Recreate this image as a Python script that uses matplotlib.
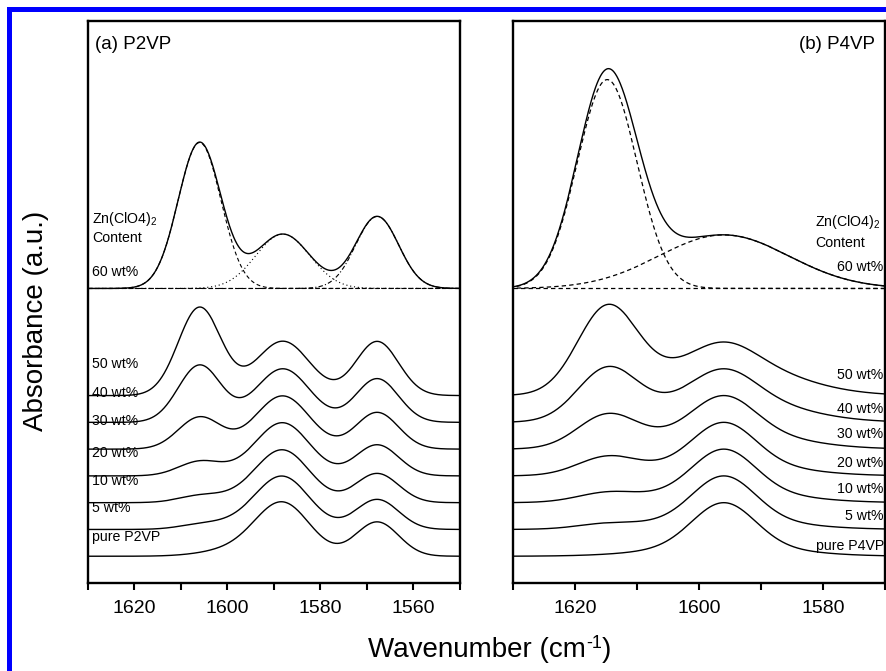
import numpy as np
import matplotlib
matplotlib.use("Agg")
import matplotlib.pyplot as plt
from matplotlib.ticker import MultipleLocator
from matplotlib.transforms import blended_transform_factory
from matplotlib.patches import Rectangle

plt.rcParams['font.family'] = ['Liberation Sans', 'DejaVu Sans']
plt.rcParams['mathtext.default'] = 'regular'

# ---------------- data ----------------
contents = ['pure', '5 wt%', '10 wt%', '20 wt%', '30 wt%', '40 wt%', '50 wt%', '60 wt%']
offsets = [1, 2, 3, 4, 5, 6, 7, 11]

# P2VP bands (cm-1): Zn-complexed ring, weak shoulder, free ring, 1568 band
p2vp_centers = [1606.0, 1598.0, 1588.1, 1567.8]
p2vp_sigmas = [4.6, 7.0, 5.8, 4.6]
p2vp_amp_complex = [0.0, 0.12, 0.21, 0.50, 1.17, 2.13, 3.29, 5.45]
p2vp_amp_shoulder = [0.25, 0.20, 0.15, 0.10, 0.05, 0.0, 0.0, 0.0]
p2vp_amp_free = [1.94, 1.92, 1.92, 1.95, 1.97, 2.00, 2.03, 2.03]
p2vp_amp_1568 = [1.28, 1.12, 1.09, 1.16, 1.37, 1.63, 2.02, 2.69]

# P4VP bands (cm-1): Zn-complexed ring, free ring (narrow + broad part)
p4vp_centers = [1614.8, 1596.0, 1596.0]
p4vp_sigmas = [4.8, 5.0, 10.5]
p4vp_amp_complex = [0.0, 0.17, 0.32, 0.65, 1.19, 1.88, 3.14, 7.8]
p4vp_amp_free_narrow = [1.6, 1.6, 1.55, 1.5, 1.3, 1.0, 0.7, 0.0]
p4vp_amp_free_broad = [0.4, 0.4, 0.45, 0.5, 0.7, 1.0, 1.3, 2.0]

p2vp_labels = ['pure P2VP', '5 wt%', '10 wt%', '20 wt%', '30 wt%', '40 wt%', '50 wt%']
p4vp_labels = ['pure P4VP', '5 wt%', '10 wt%', '20 wt%', '30 wt%', '40 wt%', '50 wt%']

xlim_a = (1630, 1550)
xlim_b = (1630, 1570)


def band(x, c, s, a):
    return a * np.exp(-0.5 * ((x - c) / s) ** 2)


# ---------------- figure ----------------
W, H = 886, 671
fig = plt.figure(figsize=(W / 100, H / 100), dpi=100)

def frac_axes(x0, y0, x1, y1):
    return fig.add_axes([x0 / W, 1 - y1 / H, (x1 - x0) / W, (y1 - y0) / H])

axa = frac_axes(88, 20.7, 460, 583)
axb = frac_axes(513, 20.7, 885, 583)

lw_main = 1.0
dash = (0, (3.5, 2.5))

# ---- panel (a) P2VP ----
xa = np.linspace(1550, 1630, 900)
amps_a = [p2vp_amp_complex, p2vp_amp_shoulder, p2vp_amp_free, p2vp_amp_1568]
for i, off in enumerate(offsets):
    comps = [band(xa, c, s, amp[i]) for c, s, amp in zip(p2vp_centers, p2vp_sigmas, amps_a)]
    axa.plot(xa, off + sum(comps), color='black', lw=lw_main)
    if i == len(offsets) - 1:
        styles = [dash, None, (0, (1, 2.5)), (0, (4, 2, 1, 2))]
        for comp, st in zip(comps, styles):
            if st is None:
                continue
            axa.plot(xa, off + comp, color='black', lw=0.8, linestyle=st)
        axa.plot(xlim_a, [off, off], color='black', lw=0.8, linestyle=dash)

# ---- panel (b) P4VP ----
xb = np.linspace(1570, 1630, 900)
amps_b = [p4vp_amp_complex, p4vp_amp_free_narrow, p4vp_amp_free_broad]
for i, off in enumerate(offsets):
    comps = [band(xb, c, s, amp[i]) for c, s, amp in zip(p4vp_centers, p4vp_sigmas, amps_b)]
    axb.plot(xb, off + sum(comps), color='black', lw=lw_main)
    if i == len(offsets) - 1:
        axb.plot(xb, off + comps[0], color='black', lw=0.9, linestyle=dash)
        axb.plot(xb, off + comps[2], color='black', lw=0.9, linestyle=dash)
        axb.plot(xlim_b, [off, off], color='black', lw=0.9, linestyle=dash)

for ax, xl in ((axa, xlim_a), (axb, xlim_b)):
    ax.set_xlim(*xl)
    ax.set_ylim(0, 21)
    ax.set_yticks([])
    ax.xaxis.set_major_locator(MultipleLocator(20))
    ax.xaxis.set_minor_locator(MultipleLocator(10))
    ax.tick_params(axis='x', which='both', direction='out', length=5, width=1.5,
                   labelsize=14, pad=7)
    for sp in ax.spines.values():
        sp.set_linewidth(1.7)

# ---- labels ----
lab_fs = 10.2
ta = blended_transform_factory(axa.transAxes, axa.transData)
dy_a = [0.72, 0.81, 0.82, 0.85, 1.04, 1.09, 1.19]
for lab, off, dy in zip(p2vp_labels, offsets, dy_a):
    axa.text(0.012, off + dy, lab, transform=ta, ha='left', va='center', fontsize=lab_fs)
axa.text(0.012, 13.6, r'Zn(ClO4)$_2$', transform=ta, ha='left', va='center', fontsize=lab_fs)
axa.text(0.012, 12.87, 'Content', transform=ta, ha='left', va='center', fontsize=lab_fs)
axa.text(0.012, 11.6, '60 wt%', transform=ta, ha='left', va='center', fontsize=lab_fs)
axa.text(0.02, 0.958, '(a) P2VP', transform=axa.transAxes, ha='left', va='center', fontsize=13.5)

tb = blended_transform_factory(axb.transAxes, axb.transData)
dy_b = [0.38, 0.5, 0.5, 0.49, 0.55, 0.48, 0.76]
for k, (lab, off, dy) in enumerate(zip(p4vp_labels, offsets, dy_b)):
    xpos = 0.997 if k == 0 else 0.995
    axb.text(xpos, off + dy, lab, transform=tb, ha='right', va='center',
             fontsize=lab_fs, clip_on=False)
axb.text(0.812, 13.48, r'Zn(ClO4)$_2$', transform=tb, ha='left', va='center', fontsize=lab_fs)
axb.text(0.812, 12.7, 'Content', transform=tb, ha='left', va='center', fontsize=lab_fs)
axb.text(0.995, 11.8, '60 wt%', transform=tb, ha='right', va='center', fontsize=lab_fs)
axb.text(0.973, 0.958, '(b) P4VP', transform=axb.transAxes, ha='right', va='center', fontsize=13.5)

fig.text(36 / W, 1 - 321 / H, 'Absorbance (a.u.)', rotation=90, ha='center', va='center',
         fontsize=20)

# x label assembled from pieces so the superscript keeps a plain hyphen
renderer = fig.canvas.get_renderer()
parts = [('Wavenumber (cm', 20, 0.0), ('-1', 13, 9.0), (')', 20, 0.0)]
objs = []
for s, fs, rise in parts:
    objs.append(fig.text(0, 0, s, fontsize=fs, ha='left', va='baseline'))
widths = [o.get_window_extent(renderer).width for o in objs]
total = sum(widths)
x = 490 - total / 2
base_y = H - 657
for o, w, (s, fs, rise) in zip(objs, widths, parts):
    o.set_position((x / W, (base_y + rise) / H))
    x += w

# blue frame (left and top)
fig.add_artist(Rectangle((7 / W, 0), 5 / W, 1 - 7 / H, transform=fig.transFigure,
                         color='#0000ff', lw=0))
fig.add_artist(Rectangle((7 / W, 1 - 12 / H), 1 - 7 / W, 5 / H, transform=fig.transFigure,
                         color='#0000ff', lw=0))

fig.savefig('out.png', dpi=100)
